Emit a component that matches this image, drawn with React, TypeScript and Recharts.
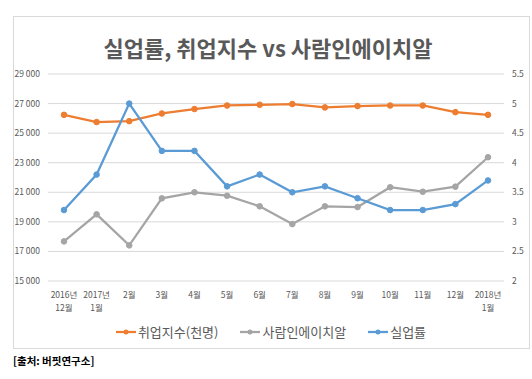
import React from 'react';
import { LineChart, Line, XAxis, YAxis, CartesianGrid } from 'recharts';

const months = [
  '2016년 12월', '2017년 1월', '2월', '3월', '4월', '5월', '6월',
  '7월', '8월', '9월', '10월', '11월', '12월', '2018년 1월',
];
const employment = [26240, 25750, 25810, 26330, 26630, 26870, 26920, 26970, 26740, 26830, 26870, 26870, 26420, 26240];
const saramin = [17680, 19510, 17410, 20590, 21000, 20770, 20050, 18850, 20050, 20000, 21340, 21040, 21380, 23370];
const unemployment = [3.2, 3.8, 5.0, 4.2, 4.2, 3.6, 3.8, 3.5, 3.6, 3.4, 3.2, 3.2, 3.3, 3.7];

const leftTicks = [15000, 17000, 19000, 21000, 23000, 25000, 27000, 29000];
const rightTicks = [2, 2.5, 3, 3.5, 4, 4.5, 5, 5.5];

const data = months.map((m, i) => ({
  month: m,
  employment: employment[i],
  saramin: saramin[i],
  unemployment: unemployment[i],
}));

const FONT = '"Noto Sans CJK KR", "Noto Sans", sans-serif';
const TEXT = '#595959';

const series = [
  { key: 'employment', name: '취업지수(천명)', color: '#ED7D31', axis: 'left' },
  { key: 'saramin', name: '사람인에이치알', color: '#A5A5A5', axis: 'left' },
  { key: 'unemployment', name: '실업률', color: '#5B9BD5', axis: 'right' },
];

const MonthTick = (props: any) => {
  const { x, y, payload } = props;
  const parts = String(payload.value).split(' ');
  return (
    <text x={x} y={y} textAnchor="middle" fill={TEXT} fontSize={8.5} fontFamily={FONT}>
      {parts.length === 2 ? (
        <>
          <tspan x={x} dy={9}>{parts[0]}</tspan>
          <tspan x={x} dy={13}>{parts[1]}</tspan>
        </>
      ) : (
        <tspan x={x} dy={9}>{parts[0]}</tspan>
      )}
    </text>
  );
};

const fmtLeft = (v: number) => v.toLocaleString('en-US').replace(',', ' ');

export default function App() {
  return (
    <div style={{ position: 'absolute', left: 0, top: 0, width: 532, height: 379, background: '#fff', fontFamily: FONT }}>
      <div style={{ position: 'absolute', left: 13, top: 16, width: 515, height: 331, border: '1px solid #d9d9d9' }} />
      <div style={{ position: 'absolute', left: 0, top: 31, width: 532, textAlign: 'center', fontSize: 22, fontWeight: 700, color: TEXT, paddingLeft: 2 }}>
        실업률, 취업지수 vs 사람인에이치알
      </div>
      <div style={{ position: 'absolute', left: 0, top: 0 }}>
        <LineChart width={532} height={379} data={data} margin={{ top: 74, right: 0, left: 0, bottom: 68 }}>
          <CartesianGrid vertical={false} stroke="#d9d9d9" yAxisId="left" />
          <XAxis
            dataKey="month"
            interval={0}
            axisLine={false}
            tickLine={false}
            height={30}
            padding={{ left: 16, right: 16 }}
            tick={<MonthTick />}
          />
          <YAxis
            yAxisId="left"
            width={48}
            domain={[15000, 29000]}
            ticks={leftTicks}
            tickFormatter={fmtLeft}
            axisLine={false}
            tickLine={false}
            tick={{ fill: TEXT, fontSize: 8.5, fontFamily: FONT }}
          />
          <YAxis
            yAxisId="right"
            orientation="right"
            width={28}
            domain={[2, 5.5]}
            ticks={rightTicks}
            axisLine={false}
            tickLine={false}
            tick={{ fill: TEXT, fontSize: 8.5, fontFamily: FONT, textAnchor: 'start' }}
          />
          {series.map((s) => (
            <Line
              key={s.key}
              yAxisId={s.axis}
              dataKey={s.key}
              name={s.name}
              stroke={s.color}
              strokeWidth={2.25}
              dot={{ r: 2.8, fill: s.color, stroke: s.color, strokeWidth: 1 }}
              isAnimationActive={false}
            />
          ))}
        </LineChart>
      </div>
      <div style={{ position: 'absolute', left: 0, top: 322, width: 542, display: 'flex', justifyContent: 'center', gap: 22, fontSize: 13, color: TEXT }}>
        {series.map((s) => (
          <div key={s.key} style={{ display: 'flex', alignItems: 'center' }}>
            <svg width={20} height={10} style={{ marginRight: 2 }}>
              <line x1={0} y1={5} x2={20} y2={5} stroke={s.color} strokeWidth={2.25} />
              <circle cx={10} cy={5} r={2.5} fill={s.color} />
            </svg>
            <span>{s.name}</span>
          </div>
        ))}
      </div>
      <div style={{ position: 'absolute', left: 13, top: 353, fontSize: 10.5, fontWeight: 700, color: '#000' }}>
        [출처: 버핏연구소]
      </div>
    </div>
  );
}
